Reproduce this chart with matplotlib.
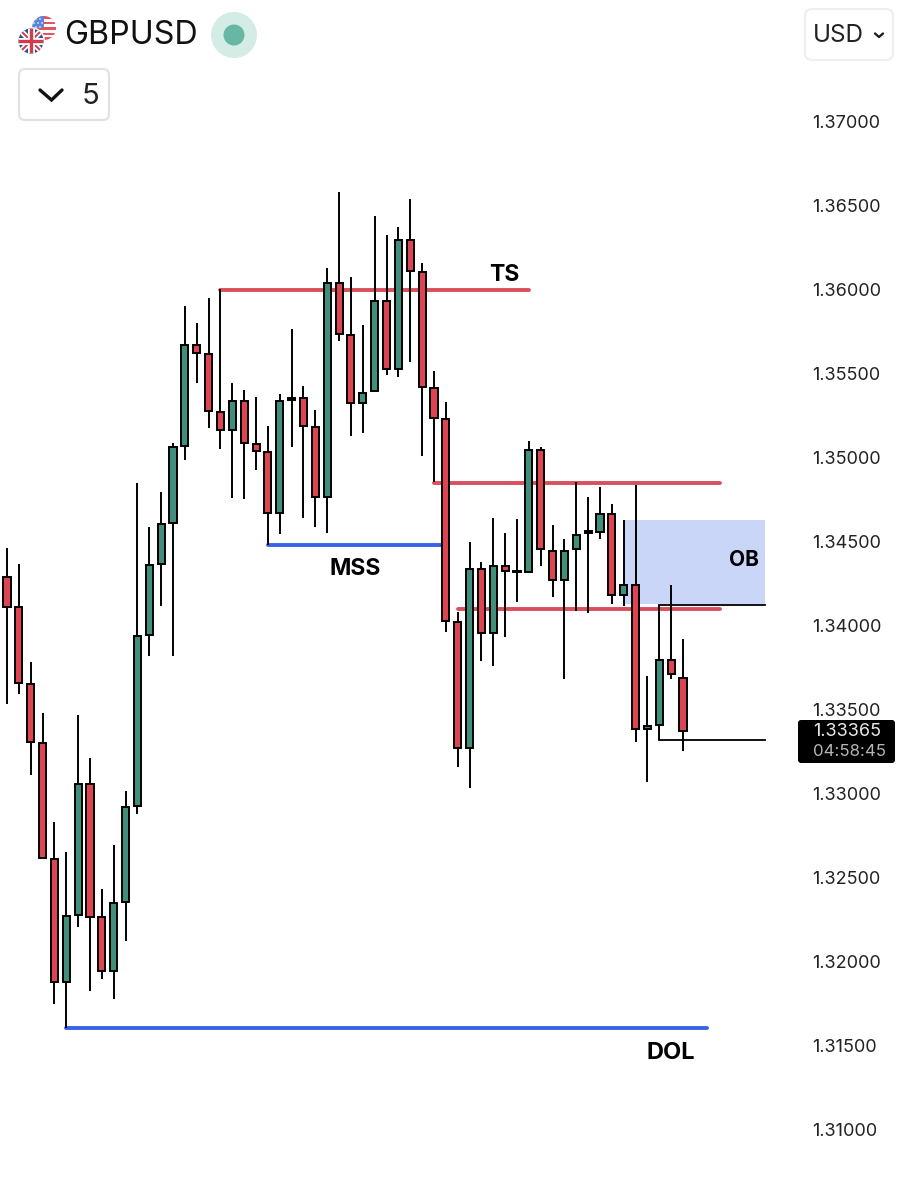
import numpy as np
import matplotlib
matplotlib.use('Agg')
import matplotlib.pyplot as plt
from matplotlib.patches import Circle, FancyBboxPatch, Rectangle

plt.rcParams['font.family'] = ['Inter', 'DejaVu Sans']

# candles
opens = [1.34286, 1.34107, 1.33649, 1.33298, 1.32607, 1.31875, 1.32274, 1.33054, 1.32262, 1.31941,
         1.32351, 1.32923, 1.33941, 1.34363, 1.34607, 1.35065, 1.35667, 1.35613, 1.35268, 1.35161,
         1.35333, 1.35077, 1.35030, 1.34667, 1.35339, 1.35351, 1.35179, 1.34762, 1.36036, 1.35726,
         1.35322, 1.35393, 1.35929, 1.35524, 1.36292, 1.36101, 1.35411, 1.35226, 1.34018, 1.33268,
         1.34333, 1.33952, 1.34351, 1.34313, 1.34316, 1.35042, 1.34441, 1.34268, 1.34452, 1.34548,
         1.34554, 1.34661, 1.34179, 1.34238, 1.33381, 1.33405, 1.33792, 1.33684]
highs = [1.34458, 1.34363, 1.33780, 1.33476, 1.32827, 1.32649, 1.33464, 1.33208, 1.32429, 1.32690,
         1.33012, 1.34845, 1.34583, 1.34792, 1.35083, 1.35899, 1.35798, 1.35946, 1.36000, 1.35441,
         1.35399, 1.35357, 1.35184, 1.35375, 1.35762, 1.35423, 1.35280, 1.36125, 1.36577, 1.36071,
         1.35786, 1.36435, 1.36321, 1.36369, 1.36536, 1.36155, 1.35512, 1.35327, 1.34077, 1.34494,
         1.34375, 1.34637, 1.34548, 1.34631, 1.35095, 1.35060, 1.34595, 1.34512, 1.34851, 1.34762,
         1.34822, 1.34720, 1.34625, 1.34833, 1.33696, 1.34119, 1.34238, 1.33917]
lows = [1.33530, 1.33589, 1.33107, 1.32613, 1.31744, 1.31601, 1.32202, 1.31821, 1.31893, 1.31774,
        1.32119, 1.32875, 1.33816, 1.34113, 1.33816, 1.34982, 1.35441, 1.35173, 1.35048, 1.34756,
        1.34750, 1.34923, 1.34476, 1.34542, 1.35060, 1.34637, 1.34583, 1.34548, 1.35690, 1.35125,
        1.35143, 1.35393, 1.35488, 1.35476, 1.35565, 1.35006, 1.34851, 1.33958, 1.33155, 1.33030,
        1.33786, 1.33756, 1.33929, 1.34137, 1.34316, 1.34351, 1.34167, 1.33679, 1.34083, 1.34071,
        1.34512, 1.34125, 1.34113, 1.33304, 1.33065, 1.33316, 1.33679, 1.33250]
closes = [1.34107, 1.33655, 1.33304, 1.32613, 1.31875, 1.32268, 1.33054, 1.32262, 1.31941, 1.32345,
          1.32917, 1.33935, 1.34357, 1.34601, 1.35060, 1.35667, 1.35619, 1.35274, 1.35161, 1.35333,
          1.35083, 1.35036, 1.34667, 1.35333, 1.35351, 1.35184, 1.34762, 1.36036, 1.35732, 1.35322,
          1.35381, 1.35929, 1.35524, 1.36292, 1.36107, 1.35417, 1.35232, 1.34024, 1.33268, 1.34333,
          1.33952, 1.34351, 1.34322, 1.34322, 1.35042, 1.34452, 1.34268, 1.34441, 1.34536, 1.34560,
          1.34661, 1.34179, 1.34238, 1.33381, 1.33399, 1.33792, 1.33708, 1.33369]

price_ticks = [1.37, 1.365, 1.36, 1.355, 1.35, 1.345, 1.34, 1.335, 1.33, 1.325, 1.32, 1.315, 1.31]
last_price = "1.33365"
countdown = "04:58:45"

# marked levels: (start candle, end candle, price)
red_levels = [(18, 44.0, 1.35994), (36, 60.1, 1.34848), (38, 60.1, 1.34095)]
blue_levels = [(22, 37, 1.34479), (5, 59.0, 1.31601)]
black_levels = [(55, 63.9, 1.34119), (55, 63.9, 1.33316)]
ob_zone = (52, 63.9, 1.34125, 1.34625)

GREEN = "#3f8f7c"
RED = "#de4553"
LINE_RED = "#d94f5c"
LINE_BLUE = "#3a62e4"

fig = plt.figure(figsize=(9.03, 12), dpi=100, facecolor="white")

# chart area, the price scale sits to the right of it
ax = fig.add_axes([0, 0, 805 / 903, 1])
ax.set_xlim(-7 / 11.86, (805 - 7) / 11.86)
ax.set_ylim(1.37 - 1079 / 16800, 1.37 + 121 / 16800)
for spine in ax.spines.values():
    spine.set_visible(False)
ax.set_xticks([])
ax.set_yticks(price_ticks)
ax.set_yticklabels([f"{p:.5f}" for p in price_ticks], fontsize=13, color="#222222")
ax.yaxis.tick_right()
ax.tick_params(axis='y', length=0, pad=5.5)

ax.add_patch(Rectangle((ob_zone[0], ob_zone[2]), ob_zone[1] - ob_zone[0], ob_zone[3] - ob_zone[2],
                       facecolor="#c9d6f8", edgecolor="none", zorder=1))

for start, end, price in red_levels:
    ax.plot([start, end], [price, price], color=LINE_RED, lw=2.8, zorder=2, solid_capstyle='round')
for start, end, price in blue_levels:
    ax.plot([start, end], [price, price], color=LINE_BLUE, lw=2.8, zorder=2, solid_capstyle='round')
for start, end, price in black_levels:
    ax.plot([start, end], [price, price], color="black", lw=1.3, zorder=2)

idx = np.arange(len(opens))
o = np.array(opens)
c = np.array(closes)
ax.vlines(idx, lows, highs, color="black", lw=1.4, zorder=3)
ax.bar(idx, np.abs(c - o), bottom=np.minimum(o, c), width=0.6,
       color=[GREEN if cl >= op else RED for op, cl in zip(o, c)],
       edgecolor="black", linewidth=1.4, zorder=4)

ax.text(41.9, 1.36085, "TS", fontsize=16.5, fontweight='bold', ha='center', va='center', zorder=5)
ax.text(29.4, 1.34335, "MSS", fontsize=16.5, fontweight='bold', ha='center', va='center', zorder=5)
ax.text(62.1, 1.34385, "OB", fontsize=15, fontweight='bold', ha='center', va='center', zorder=5)
ax.text(56.0, 1.31455, "DOL", fontsize=17, fontweight='bold', ha='center', va='center', zorder=5)

# header widgets and price tag, in image pixels
ui = fig.add_axes([0, 0, 1, 1], facecolor="none")
ui.set_xlim(0, 903)
ui.set_ylim(1200, 0)
ui.axis('off')

# US flag
us = Circle((44, 28), 12, facecolor="white", edgecolor="none", zorder=2)
ui.add_patch(us)
for y0 in (16, 21.5, 27, 32.5, 37):
    s = ui.add_patch(Rectangle((31, y0), 26, 2.8, facecolor="#e4525a", edgecolor="none", zorder=2))
    s.set_clip_path(us)
canton = ui.add_patch(Rectangle((31, 15), 13, 13, facecolor="#5a86dc", edgecolor="none", zorder=2))
canton.set_clip_path(us)
for dx, dy in [(36, 19), (40, 19), (34, 23), (38, 23), (42, 23), (36, 27), (40, 27)]:
    ui.add_patch(Circle((dx, dy), 0.8, facecolor="white", edgecolor="none", zorder=2))

# UK flag
uk = Circle((31, 41), 14, facecolor="white", edgecolor="none", zorder=3)
ui.add_patch(uk)
uk_in = Circle((31, 41), 12.5, facecolor="#2f4f96", edgecolor="none", zorder=3)
ui.add_patch(uk_in)
uk_parts = [
    ([18, 44], [28, 54], "white", 4.0), ([18, 44], [54, 28], "white", 4.0),
    ([18, 44], [28, 54], "#d23b4a", 1.4), ([18, 44], [54, 28], "#d23b4a", 1.4),
    ([31, 31], [28, 54], "white", 5.0), ([18, 44], [41, 41], "white", 5.0),
    ([31, 31], [28, 54], "#d23b4a", 2.4), ([18, 44], [41, 41], "#d23b4a", 2.4),
]
for xs, ys, col, w in uk_parts:
    part, = ui.plot(xs, ys, color=col, lw=w, zorder=3, solid_capstyle='butt')
    part.set_clip_path(uk_in)

ui.text(64, 36, "GBPUSD", fontsize=23.2, color="#111111", ha='left', va='center')
ui.add_patch(Circle((234, 35), 23, facecolor="#d5ebe6", edgecolor="none"))
ui.add_patch(Circle((234, 35), 10.5, facecolor="#66b8a5", edgecolor="none"))

ui.add_patch(FancyBboxPatch((23, 73), 82, 43, boxstyle="round,pad=4,rounding_size=6",
                            facecolor="white", edgecolor="#e2e2e2", lw=1.6))
ui.plot([40, 51.5, 62], [90, 100, 90], color="#111111", lw=2.4, solid_capstyle='round', solid_joinstyle='miter')
ui.text(91, 96, "5", fontsize=21, color="#222222", ha='center', va='center')

ui.add_patch(FancyBboxPatch((809, 13), 80, 43, boxstyle="round,pad=4,rounding_size=7",
                            facecolor="white", edgecolor="#efefef", lw=1.6))
ui.text(838, 36, "USD", fontsize=17.5, color="#222222", ha='center', va='center')
ui.plot([875, 879, 883], [33.5, 37, 33.5], color="#222222", lw=1.7, solid_capstyle='round')

ui.add_patch(FancyBboxPatch((800, 722), 93, 39, boxstyle="round,pad=2,rounding_size=3",
                            facecolor="black", edgecolor="none"))
ui.text(847, 732, last_price, fontsize=13, color="#e8e8e8", ha='center', va='center')
ui.text(849.5, 751, countdown, fontsize=12.1, color="#b5b5b5", ha='center', va='center')

fig.savefig("out.png", dpi=100, facecolor="white")
